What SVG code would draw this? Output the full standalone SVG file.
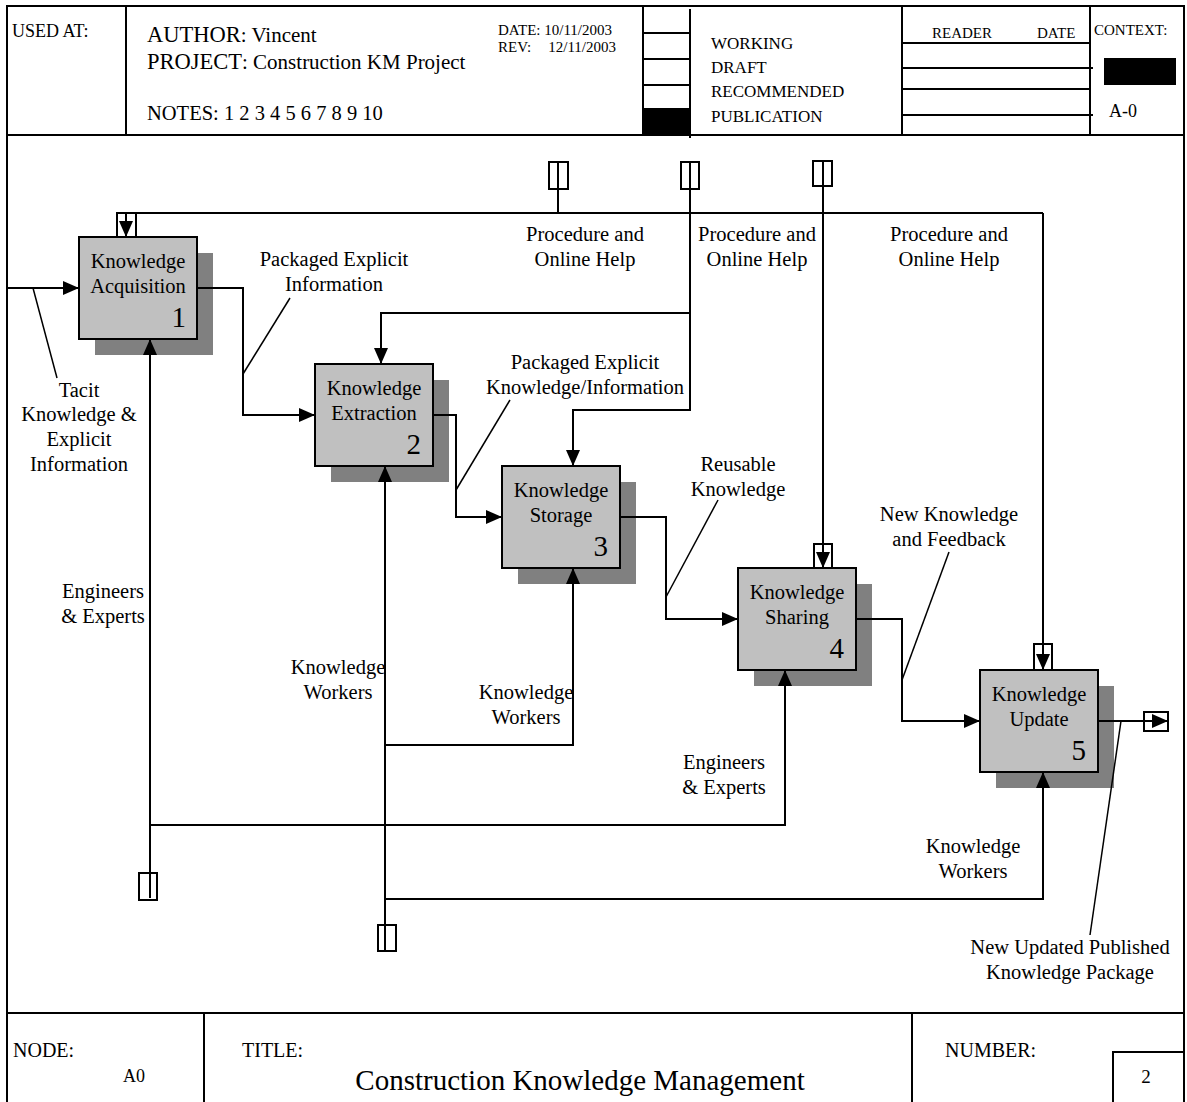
<svg xmlns="http://www.w3.org/2000/svg" width="1187" height="1102" viewBox="0 0 1187 1102">
  <style>
    text { font-family: "Liberation Serif", "Times New Roman", serif; fill: #000; }
    .lbl { font-size: 20.5px; text-anchor: middle; }
    .num { font-size: 29px; text-anchor: end; }
    .hdr { font-size: 15px; }
    .frame { stroke: #000; stroke-width: 2; fill: none; }
    .box { fill: #c0c0c0; stroke: #000; stroke-width: 2; }
    .shadow { fill: #808080; }
    .conn { stroke: #000; stroke-width: 2; fill: none; }
    .lead { stroke: #000; stroke-width: 1.5; fill: none; }
    .tunnel { stroke: #000; stroke-width: 2; fill: none; }
  </style>
  <defs>
    <marker id="ah" markerUnits="userSpaceOnUse" viewBox="0 0 16 14" markerWidth="16" markerHeight="14" refX="16" refY="7" orient="auto">
      <path d="M0,0 L16,7 L0,14 z" fill="#000"/>
    </marker>
  </defs>

  <rect width="1187" height="1102" fill="#fff"/>

  <!-- form frame -->
  <g id="form">
    <path class="frame" d="M7,1102 V6 H1184 V1102"/>
    <path class="frame" d="M7,135 H1184 M7,1013 H1184"/>
    <!-- header cells -->
    <path class="frame" d="M126,6 V135 M643,6 V135 M690,9 V138 M902,6 V135 M1090,6 V135"/>
    <path class="frame" d="M643,33 H690 M643,59 H690 M643,85 H690 M643,109 H690"/>
    <rect x="643" y="109" width="47" height="26" fill="#000"/>
    <path class="frame" d="M902,43 H1090 M902,68 H1093 M902,89 H1090 M902,115 H1093"/>
    <rect x="1104" y="58" width="72" height="27" fill="#000"/>
    <text x="12" y="37" style="font-size:18px">USED AT:</text>
    <text x="147" y="42" style="font-size:21px"><tspan style="font-size:22.5px">AUTHOR</tspan>: Vincent</text>
    <text x="147" y="69" style="font-size:21px"><tspan style="font-size:22.5px">PROJECT</tspan>: Construction KM Project</text>
    <text x="147" y="120" style="font-size:20.5px">NOTES: 1 2 3 4 5 6 7 8 9 10</text>
    <text class="hdr" x="498" y="35">DATE: 10/11/2003</text>
    <text class="hdr" x="498" y="52">REV:</text>
    <text class="hdr" x="616" y="52" text-anchor="end">12/11/2003</text>
    <text x="711" y="49" style="font-size:17px">WORKING</text>
    <text x="711" y="73" style="font-size:17px">DRAFT</text>
    <text x="711" y="97" style="font-size:17px">RECOMMENDED</text>
    <text x="711" y="122" style="font-size:17px">PUBLICATION</text>
    <text class="hdr" x="932" y="38">READER</text>
    <text class="hdr" x="1037" y="38">DATE</text>
    <text class="hdr" x="1094" y="35">CONTEXT:</text>
    <text x="1109" y="117" style="font-size:18px">A-0</text>
    <!-- footer cells -->
    <path class="frame" d="M204,1013 V1102 M912,1013 V1102 M1113,1102 V1052 H1184"/>
    <text x="13" y="1057" style="font-size:20px">NODE:</text>
    <text x="123" y="1082" style="font-size:18px">A0</text>
    <text x="242" y="1057" style="font-size:20px">TITLE:</text>
    <text x="580" y="1090" style="font-size:29px" text-anchor="middle">Construction Knowledge Management</text>
    <text x="945" y="1057" style="font-size:20px">NUMBER:</text>
    <text x="1146" y="1083" style="font-size:19px" text-anchor="middle">2</text>
  </g>

  <!-- activity boxes -->
  <g id="node1">
    <rect class="shadow" x="95" y="253" width="118" height="102"/>
    <rect class="box" x="79" y="237" width="118" height="102"/>
    <text class="lbl" x="138" y="268">Knowledge</text>
    <text class="lbl" x="138" y="293">Acquisition</text>
    <text class="num" x="186" y="327">1</text>
  </g>
  <g id="node2">
    <rect class="shadow" x="331" y="380" width="118" height="102"/>
    <rect class="box" x="315" y="364" width="118" height="102"/>
    <text class="lbl" x="374" y="395">Knowledge</text>
    <text class="lbl" x="374" y="420">Extraction</text>
    <text class="num" x="421" y="454">2</text>
  </g>
  <g id="node3">
    <rect class="shadow" x="518" y="482" width="118" height="102"/>
    <rect class="box" x="502" y="466" width="118" height="102"/>
    <text class="lbl" x="561" y="497">Knowledge</text>
    <text class="lbl" x="561" y="522">Storage</text>
    <text class="num" x="608" y="556">3</text>
  </g>
  <g id="node4">
    <rect class="shadow" x="754" y="584" width="118" height="102"/>
    <rect class="box" x="738" y="568" width="118" height="102"/>
    <text class="lbl" x="797" y="599">Knowledge</text>
    <text class="lbl" x="797" y="624">Sharing</text>
    <text class="num" x="844" y="658">4</text>
  </g>
  <g id="node5">
    <rect class="shadow" x="996" y="686" width="118" height="102"/>
    <rect class="box" x="980" y="670" width="118" height="102"/>
    <text class="lbl" x="1039" y="701">Knowledge</text>
    <text class="lbl" x="1039" y="726">Update</text>
    <text class="num" x="1086" y="760">5</text>
  </g>

  <!-- arrows, tunnels and labels -->
  <g id="connectors">
    <!-- inputs and outputs -->
    <path class="conn" d="M7,288 H79" marker-end="url(#ah)"/>
    <path class="conn" d="M197,288 H243 V415 H315" marker-end="url(#ah)"/>
    <path class="conn" d="M433,415 H456 V517 H502" marker-end="url(#ah)"/>
    <path class="conn" d="M620,517 H666 V619 H738" marker-end="url(#ah)"/>
    <path class="conn" d="M856,619 H902 V721 H980" marker-end="url(#ah)"/>
    <path class="conn" d="M1098,721 H1168" marker-end="url(#ah)"/>
    <rect class="tunnel" x="1144" y="712" width="24" height="19"/>

    <!-- controls -->
    <path class="conn" d="M558,162 V213"/>
    <rect class="tunnel" x="549" y="162" width="19" height="27"/>
    <path class="conn" d="M1043,213 H126 V237" marker-end="url(#ah)"/>
    <path class="conn" d="M1043,213 V670" marker-end="url(#ah)"/>
    <rect class="tunnel" x="117" y="213" width="19" height="24"/>
    <rect class="tunnel" x="1034" y="644" width="18" height="26"/>
    <path class="conn" d="M690,162 V410 H573 V466" marker-end="url(#ah)"/>
    <path class="conn" d="M690,313 H381 V364" marker-end="url(#ah)"/>
    <rect class="tunnel" x="681" y="162" width="18" height="27"/>
    <path class="conn" d="M823,161 V568" marker-end="url(#ah)"/>
    <rect class="tunnel" x="813" y="161" width="19" height="25"/>
    <rect class="tunnel" x="814" y="544" width="18" height="24"/>

    <!-- mechanisms -->
    <path class="conn" d="M150,898 V339" marker-end="url(#ah)"/>
    <path class="conn" d="M150,825 H785 V670" marker-end="url(#ah)"/>
    <rect class="tunnel" x="139" y="873" width="18" height="27"/>
    <path class="conn" d="M385,951 V466" marker-end="url(#ah)"/>
    <path class="conn" d="M385,745 H573 V568" marker-end="url(#ah)"/>
    <path class="conn" d="M385,899 H1043 V772" marker-end="url(#ah)"/>
    <rect class="tunnel" x="378" y="925" width="18" height="26"/>

    <!-- label leaders -->
    <path class="lead" d="M33,288 L57,378"/>
    <path class="lead" d="M243,374 L290,298"/>
    <path class="lead" d="M456,490 L510,400"/>
    <path class="lead" d="M666,597 L718,500"/>
    <path class="lead" d="M902,680 L949,552"/>
    <path class="lead" d="M1121,721 L1090,935"/>

    <!-- arrow labels -->
    <text class="lbl" x="585" y="241">Procedure and</text>
    <text class="lbl" x="585" y="266">Online Help</text>
    <text class="lbl" x="757" y="241">Procedure and</text>
    <text class="lbl" x="757" y="266">Online Help</text>
    <text class="lbl" x="949" y="241">Procedure and</text>
    <text class="lbl" x="949" y="266">Online Help</text>
    <text class="lbl" x="334" y="266">Packaged Explicit</text>
    <text class="lbl" x="334" y="291">Information</text>
    <text class="lbl" x="79" y="397">Tacit</text>
    <text class="lbl" x="79" y="421">Knowledge &amp;</text>
    <text class="lbl" x="79" y="446">Explicit</text>
    <text class="lbl" x="79" y="471">Information</text>
    <text class="lbl" x="585" y="369">Packaged Explicit</text>
    <text class="lbl" x="585" y="394">Knowledge/Information</text>
    <text class="lbl" x="738" y="471">Reusable</text>
    <text class="lbl" x="738" y="496">Knowledge</text>
    <text class="lbl" x="949" y="521">New Knowledge</text>
    <text class="lbl" x="949" y="546">and Feedback</text>
    <text class="lbl" x="103" y="598">Engineers</text>
    <text class="lbl" x="103" y="623">&amp; Experts</text>
    <text class="lbl" x="338" y="674">Knowledge</text>
    <text class="lbl" x="338" y="699">Workers</text>
    <text class="lbl" x="526" y="699">Knowledge</text>
    <text class="lbl" x="526" y="724">Workers</text>
    <text class="lbl" x="724" y="769">Engineers</text>
    <text class="lbl" x="724" y="794">&amp; Experts</text>
    <text class="lbl" x="973" y="853">Knowledge</text>
    <text class="lbl" x="973" y="878">Workers</text>
    <text class="lbl" x="1070" y="954">New Updated Published</text>
    <text class="lbl" x="1070" y="979">Knowledge Package</text>
  </g>
</svg>
